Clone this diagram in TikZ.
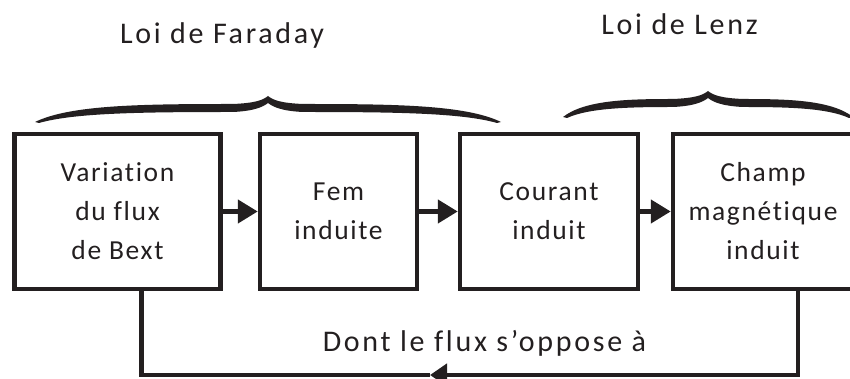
\documentclass[tikz,border=0pt]{standalone}
\usepackage{fontspec}
\usepackage{tikz}
\usetikzlibrary{arrows.meta}

\newfontfamily\boxfont[LetterSpace=6,Ligatures=NoCommon]{Carlito}
\newfontfamily\lawfont[LetterSpace=9,Ligatures=NoCommon]{Carlito}
\definecolor{ink}{HTML}{231F20}

% curly brace: tip x, end y, half width
\newcommand{\lawbrace}[3]{%
  \fill[ink] ({#1-#3},#2)
    .. controls ({#1-0.85*#3},{#2+17}) and ({#1-0.55*#3},{#2+18}) .. ({#1-35},{#2+18})
    .. controls ({#1-12},{#2+19}) and ({#1-5},{#2+22}) .. ({#1},{#2+26})
    .. controls ({#1+5},{#2+22}) and ({#1+12},{#2+19}) .. ({#1+35},{#2+18})
    .. controls ({#1+0.55*#3},{#2+18}) and ({#1+0.85*#3},{#2+17}) .. ({#1+#3},{#2})
    -- ({#1+#3-4},{#2-1})
    .. controls ({#1+0.85*#3-4},{#2+9}) and ({#1+0.55*#3},{#2+10}) .. ({#1+35},{#2+10})
    .. controls ({#1+14},{#2+11}) and ({#1+5},{#2+15}) .. ({#1},{#2+19})
    .. controls ({#1-5},{#2+15}) and ({#1-14},{#2+11}) .. ({#1-35},{#2+10})
    .. controls ({#1-0.55*#3},{#2+10}) and ({#1-0.85*#3+4},{#2+9}) .. ({#1-#3+4},{#2-1})
    -- cycle;}

\begin{document}
\begin{tikzpicture}[x=1pt,y=1pt,
    block/.style={draw=ink,line width=4.5pt,minimum height=155pt,align=center,
      inner sep=0pt,text=ink,font=\boxfont\fontsize{27.5}{39}\selectfont},
    law/.style={text=ink,anchor=base,inner sep=0pt,font=\lawfont\fontsize{30}{36}\selectfont},
    link/.style={draw=ink,line width=4.5pt},
    head/.style={-{Triangle[length=20pt,width=23pt]}}]
    \useasboundingbox (0,0) rectangle (850,379);

    \node (flux) at (117.5,167.5) [block,minimum width=206pt] {Variation\\du flux\\de Bext};
    \node (fem) at (338.5,167.5) [block,minimum width=157pt] {Fem\\induite};
    \node (cour) at (549,167.5) [block,minimum width=178pt] {Courant\\induit};
    \node (champ) at (763,167.5) [block,minimum width=180pt] {Champ\\magnétique\\induit};

    \node (faraday) at (222,335) [law] {Loi de Faraday};
    \node (lenz) at (679.5,344) [law] {Loi de Lenz};
    \node (oppose) at (484.5,27) [law] {Dont le flux s’oppose à};

    \lawbrace{268}{257}{233}
    \lawbrace{708}{262}{145}

    \draw[link,head] (flux) to (fem);
    \draw[link,head] (fem) to (cour);
    \draw[link,head] (cour) to (champ);

    \coordinate (back) at (430,4);
    \draw[link,-{Triangle[length=17pt,width=22pt]}] ([xshift=35pt]champ.south) |- (back);
    \draw[link] (back) -| ([xshift=24pt]flux.south);
\end{tikzpicture}
\end{document}
